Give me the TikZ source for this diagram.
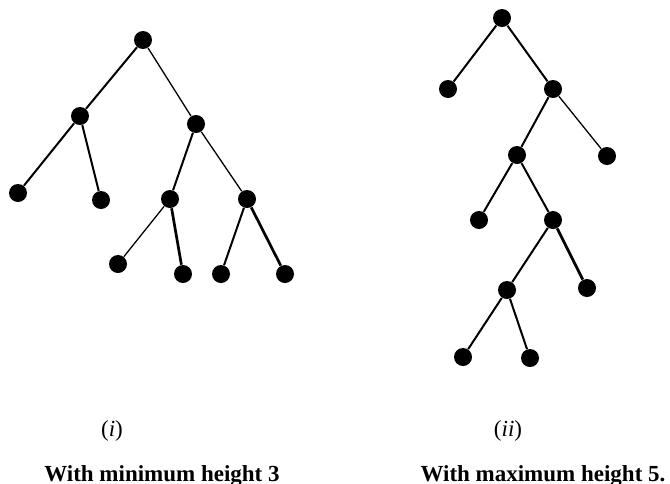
\documentclass[tikz,border=0pt]{standalone}
\usepackage{fontspec}
\setmainfont{Liberation Serif}
\usepackage{tikz}
\usetikzlibrary{positioning}

\begin{document}
\begin{tikzpicture}[
    x=0.5pt, y=-0.5pt,
    vtx/.style={circle, fill=black, inner sep=0pt, minimum size=9pt},
    edge/.style={line width=1pt},
    thinedge/.style={line width=0.65pt},
    thickedge/.style={line width=1.35pt},
    tag/.style={font=\fontsize{11.5}{14}\selectfont},
    caption/.style={font=\fontsize{11.5}{14}\selectfont\bfseries, anchor=base}
]
    \useasboundingbox (0,0) rectangle (670,483);
    % tree (i)
    \node[vtx] (a) at (143,40) {};
    \node[vtx] (aL) at (80,116) {};
    \node[vtx] (aR) at (196,124) {};
    \node[vtx] (aLL) at (18,193) {};
    \node[vtx] (aLR) at (101,200) {};
    \node[vtx] (aRL) at (170,199) {};
    \node[vtx] (aRR) at (247,199) {};
    \node[vtx] (aRLL) at (118,264) {};
    \node[vtx] (aRLR) at (183,274) {};
    \node[vtx] (aRRL) at (221,274) {};
    \node[vtx] (aRRR) at (285,274) {};
    \draw[edge] (a) -- (aL);
    \draw[thinedge] (a) -- (aR);
    \draw[edge] (aL) -- (aLL);
    \draw[edge] (aL) -- (aLR);
    \draw[edge] (aR) -- (aRL);
    \draw[thinedge] (aR) -- (aRR);
    \draw[thinedge] (aRL) -- (aRLL);
    \draw[thickedge] (aRL) -- (aRLR);
    \draw[edge] (aRR) -- (aRRL);
    \draw[thickedge] (aRR) -- (aRRR);
    % tree (ii)
    \node[vtx] (b) at (502,18) {};
    \node[vtx] (bL) at (448,89) {};
    \node[vtx] (bR) at (553,89) {};
    \node[vtx] (bRL) at (517,155) {};
    \node[vtx] (bRR) at (607,156) {};
    \node[vtx] (bRLL) at (479,220) {};
    \node[vtx] (bRLR) at (553,220) {};
    \node[vtx] (bRLRL) at (507,290) {};
    \node[vtx] (bRLRR) at (587,288) {};
    \node[vtx] (bRLRLL) at (463,357) {};
    \node[vtx] (bRLRLR) at (530,358) {};
    \draw[edge] (b) -- (bL);
    \draw[edge] (b) -- (bR);
    \draw[edge] (bR) -- (bRL);
    \draw[thinedge] (bR) -- (bRR);
    \draw[edge] (bRL) -- (bRLL);
    \draw[edge] (bRL) -- (bRLR);
    \draw[edge] (bRLR) -- (bRLRL);
    \draw[thickedge] (bRLR) -- (bRLRR);
    \draw[edge] (bRLRL) -- (bRLRLL);
    \draw[edge] (bRLRL) -- (bRLRLR);
    % labels
    \node[tag] (ti) at (112,431) {(\textit{i})};
    \node[tag] (tii) at (508,431) {(\textit{ii})};
    \node[caption] (ci) at (162,481) {With minimum height 3};
    \node[caption] (cii) at (543,481) {With maximum height 5.};
\end{tikzpicture}
\end{document}
